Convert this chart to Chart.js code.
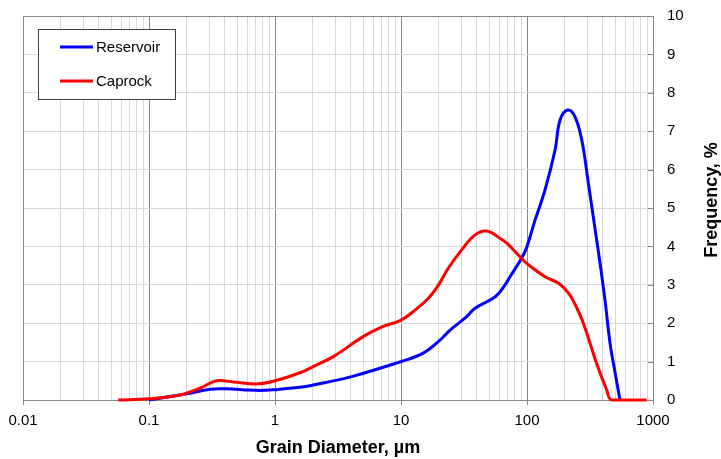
<!DOCTYPE html>
<html>
<head>
<meta charset="utf-8">
<script src="https://cdn.jsdelivr.net/npm/chart.js@4.4.1/dist/chart.umd.min.js"></script>
<style>
  html, body { margin: 0; padding: 0; background: #fff; }
  #wrap { width: 721px; height: 459px; position: relative; }
</style>
</head>
<body>
<div id="wrap"><canvas id="psdChart"></canvas></div>
<script>
// Grain size distribution, reservoir sand vs caprock
const reservoirDiam = [0.1, 0.147, 0.2, 0.305, 0.414, 0.55, 0.76, 1, 1.58, 2.01, 4.06, 10, 15, 20.4, 24.5, 33.2, 38.7, 56, 66.7, 73.3, 90.8, 100, 116, 139, 167, 183, 210, 240, 272, 307, 357, 380, 416, 456, 499, 547];
const reservoirFreq = [0, 0.09, 0.16, 0.28, 0.29, 0.27, 0.25, 0.27, 0.33, 0.39, 0.61, 1.0, 1.22, 1.56, 1.82, 2.17, 2.39, 2.69, 2.99, 3.21, 3.7, 4.0, 4.69, 5.47, 6.51, 7.29, 7.55, 7.38, 6.77, 5.64, 4.17, 3.56, 2.6, 1.48, 0.73, 0];

const caprockDiam = [0.057, 0.1, 0.176, 0.254, 0.344, 0.467, 0.73, 1, 1.58, 2.01, 2.9, 5, 7, 10, 12.9, 16.5, 19.8, 23.7, 30.3, 38.7, 47.9, 63, 69.8, 87.9, 100, 139, 178, 214, 240, 280, 357, 429, 470, 891];
const caprockFreq = [0, 0.03, 0.13, 0.31, 0.50, 0.47, 0.42, 0.50, 0.71, 0.87, 1.13, 1.65, 1.9, 2.08, 2.34, 2.65, 2.99, 3.43, 3.91, 4.30, 4.40, 4.18, 4.07, 3.73, 3.55, 3.21, 3.04, 2.78, 2.5, 2.0, 0.95, 0.26, 0, 0];

const decades = [0.01, 0.1, 1, 10, 100];
const xMax = 1000;
const yTicks = [0, 1, 2, 3, 4, 5, 6, 7, 8, 9, 10];

const FONT = "'Liberation Sans', Arial, sans-serif";
const AXIS_GREY = '#878787';
const GRID_GREY = '#d9d9d9';

function toPoints(xs, ys) {
  return xs.map((x, i) => ({ x: x, y: ys[i] }));
}

function isDecade(v) {
  const l = Math.log10(v);
  return Math.abs(l - Math.round(l)) < 1e-9;
}

// box round the plot, inward y ticks, rotated y title
const framePlugin = {
  id: 'frame',
  beforeDatasetsDraw(chart) {
    const { ctx, chartArea: a } = chart;
    const yScale = chart.scales.y;
    ctx.save();
    ctx.strokeStyle = AXIS_GREY;
    ctx.lineWidth = 1;
    ctx.strokeRect(a.left + 0.5, a.top + 0.5, a.right - a.left, a.bottom - a.top);
    ctx.beginPath();
    yTicks.forEach(v => {
      const py = Math.round(yScale.getPixelForValue(v)) + 0.5;
      ctx.moveTo(a.right - 5, py);
      ctx.lineTo(a.right, py);
    });
    ctx.stroke();
    ctx.restore();
  },
  afterDraw(chart) {
    const { ctx, chartArea: a } = chart;
    ctx.save();
    ctx.translate(712, (a.top + a.bottom) / 2 - 8);
    ctx.rotate(-Math.PI / 2);
    ctx.font = "bold 18px " + FONT;
    ctx.fillStyle = '#000';
    ctx.textAlign = 'center';
    ctx.textBaseline = 'middle';
    ctx.fillText('Frequency, %', 0, 0);
    ctx.restore();
  }
};

// boxed legend in the upper left corner
const boxLegendPlugin = {
  id: 'boxLegend',
  afterDatasetsDraw(chart) {
    const { ctx } = chart;
    const bx = 38, by = 29, bw = 137, bh = 70;
    ctx.save();
    ctx.fillStyle = '#fff';
    ctx.fillRect(bx, by, bw, bh);
    ctx.strokeStyle = '#404040';
    ctx.lineWidth = 1;
    ctx.strokeRect(bx + 0.5, by + 0.5, bw, bh);
    ctx.font = "15px " + FONT;
    ctx.textBaseline = 'middle';
    chart.data.datasets.forEach((ds, i) => {
      const ly = by + 18 + i * 34;
      ctx.strokeStyle = ds.borderColor;
      ctx.lineWidth = 3;
      ctx.beginPath();
      ctx.moveTo(bx + 22, ly);
      ctx.lineTo(bx + 55, ly);
      ctx.stroke();
      ctx.fillStyle = '#000';
      ctx.fillText(ds.label, bx + 58, ly + 1);
    });
    ctx.restore();
  }
};

const ctx = document.getElementById('psdChart').getContext('2d');
const psdChart = new Chart(ctx, {
  type: 'scatter',
  data: {
    datasets: [
      {
        label: 'Reservoir',
        data: toPoints(reservoirDiam, reservoirFreq),
        borderColor: '#0000ff',
        order: 1
      },
      {
        label: 'Caprock',
        data: toPoints(caprockDiam, caprockFreq),
        borderColor: '#ff0000',
        order: 0
      }
    ]
  },
  options: {
    responsive: true,
    maintainAspectRatio: false,
    animation: false,
    layout: { padding: { left: 23, top: 16, right: 0, bottom: 0 } },
    elements: {
      line: { borderWidth: 3, tension: 0.4, capBezierPoints: true, fill: false },
      point: { radius: 0, hoverRadius: 0 }
    },
    datasets: {
      scatter: { showLine: true, clip: false }
    },
    plugins: {
      legend: { display: false },
      tooltip: { enabled: false }
    },
    scales: {
      x: {
        type: 'logarithmic',
        min: decades[0],
        max: xMax,
        afterBuildTicks(scale) {
          const t = [];
          decades.forEach(d => {
            for (let k = 1; k <= 9; k++) t.push({ value: k * d });
          });
          t.push({ value: xMax });
          scale.ticks = t;
        },
        afterFit(scale) {
          scale.height = 59;
          scale.paddingLeft = 0;
          scale.paddingRight = 0;
        },
        border: { color: AXIS_GREY, width: 1 },
        grid: {
          color: c => (c.tick && isDecade(c.tick.value) ? AXIS_GREY : GRID_GREY),
          tickColor: c => (c.tick && isDecade(c.tick.value) ? AXIS_GREY : 'rgba(0,0,0,0)'),
          tickLength: 5,
          lineWidth: 1
        },
        ticks: {
          autoSkip: false,
          maxRotation: 0,
          padding: 7,
          color: '#000',
          font: { family: FONT, size: 15 },
          callback: v => (isDecade(v) ? String(v) : '')
        },
        title: {
          display: true,
          text: 'Grain Diameter, µm',
          color: '#000',
          font: { family: FONT, size: 18, weight: 'bold' },
          padding: { top: 0, bottom: 0 }
        }
      },
      y: {
        position: 'right',
        min: 0,
        max: 10,
        afterBuildTicks(scale) {
          scale.ticks = yTicks.map(v => ({ value: v }));
        },
        afterFit(scale) {
          scale.width = 68;
          scale.paddingTop = 0;
          scale.paddingBottom = 0;
        },
        border: { color: AXIS_GREY, width: 1 },
        grid: { color: GRID_GREY, drawTicks: false, lineWidth: 1 },
        ticks: {
          padding: 14,
          color: '#000',
          font: { family: FONT, size: 15 }
        }
      }
    }
  },
  plugins: [framePlugin, boxLegendPlugin]
});
</script>
</body>
</html>
